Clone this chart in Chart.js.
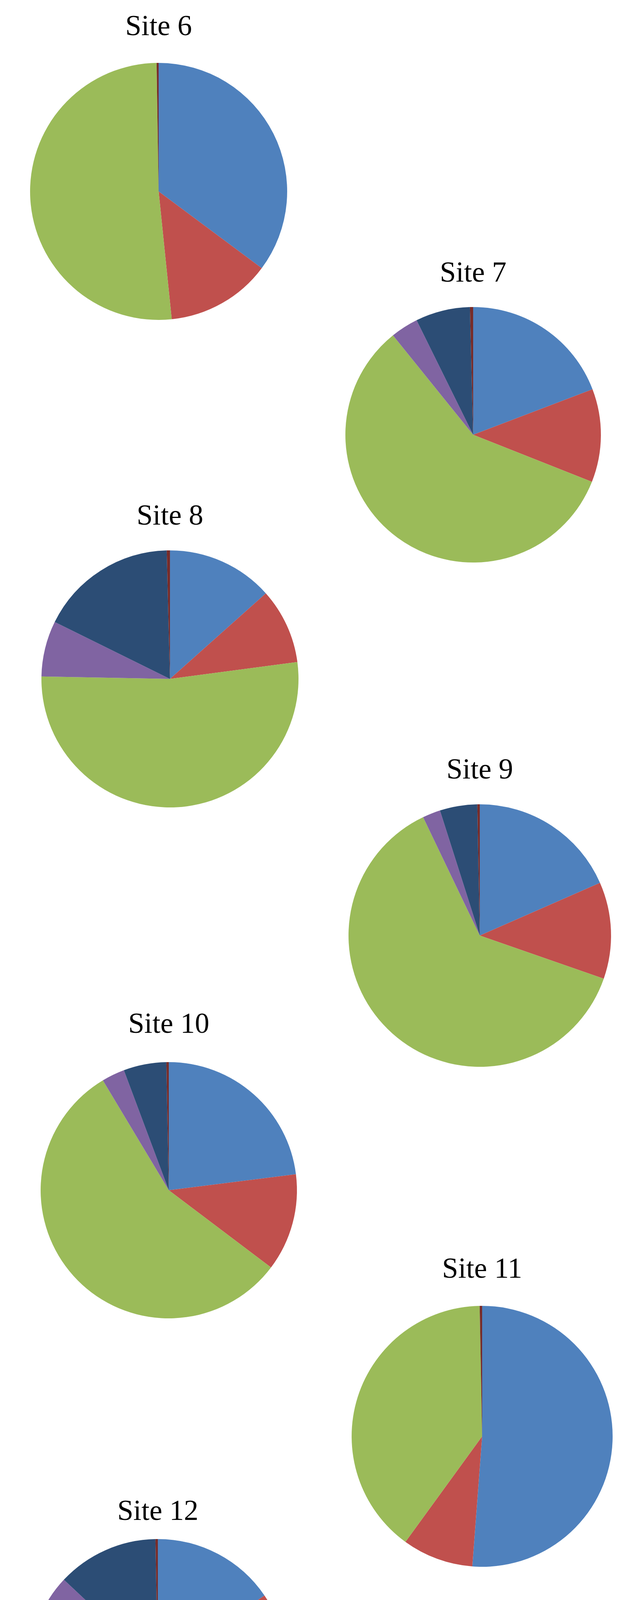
<!DOCTYPE html>
<html>
<head>
<meta charset="utf-8">
<title>Site 6 - Site 12</title>
<script src="https://cdn.jsdelivr.net/npm/chart.js@4.4.1/dist/chart.umd.min.js"></script>
<style>
  body { margin: 0; background: #fff; width: 1592px; height: 4586px; position: relative; overflow: hidden; }
  canvas { position: absolute; }
</style>
</head>
<body>
<script>
// categories in clockwise order from 12 o'clock (Excel 2007 default palette order)
const categories = ["Series 1", "Series 2", "Series 3", "Series 4", "Series 5", "Series 6", "Series 7", "Series 8"];
const sliceColors = ["#4F81BD", "#C0504D", "#9BBB59", "#8064A2", "#4BACC6", "#F79646", "#2C4D75", "#772C2A"];

// share of each category per site (%)
const site6 = [35.2, 13.2, 51.4, 0, 0, 0, 0, 0.25];
const site7 = [19.2, 11.8, 58.2, 3.5, 0, 0, 6.9, 0.4];
const site8 = [13.4, 9.5, 52.4, 7.0, 0, 0, 17.3, 0.4];
const site9 = [18.4, 11.9, 62.5, 2.2, 0, 0, 4.6, 0.3];
const site10 = [23.0, 12.3, 56.1, 2.9, 0, 0, 5.4, 0.3];
const site11 = [51.2, 8.8, 39.7, 0, 0, 0, 0, 0.3];
const site12 = [15.5, 9.8, 55.9, 5.8, 0, 0, 12.7, 0.3];

const siteTitles = ["Site 6", "Site 7", "Site 8", "Site 9", "Site 10", "Site 11", "Site 12"];
const siteValues = [site6, site7, site8, site9, site10, site11, site12];

// where each little chart sits on the page: title centre / baseline, pie centre and radius
const placement = [
  { tx: 427, ty: 95, cx: 406, cy: 490, r: 329 },
  { tx: 1210, ty: 726, cx: 1211, cy: 1113, r: 327 },
  { tx: 430, ty: 1348, cx: 435, cy: 1738, r: 329 },
  { tx: 1215, ty: 1998, cx: 1228, cy: 2395, r: 336 },
  { tx: 425, ty: 2649, cx: 432, cy: 3047, r: 328 },
  { tx: 1231, ty: 3276, cx: 1234, cy: 3677, r: 334 },
  { tx: 405, ty: 3896, cx: 404, cy: 4270, r: 330 }
];

const TITLE_SIZE = 74;
const BASELINE_DROP = 61; // from top of title line box to the text baseline

function drawSite(index) {
  const p = placement[index];
  const top = p.ty - BASELINE_DROP;
  const gap = p.cy - p.r - top - TITLE_SIZE;
  const width = 2 * p.r + 2 * Math.abs(p.cx - p.tx) + 20;
  const left = p.tx - width / 2;
  const padLeft = p.cx - p.r - left;
  const padRight = width - 2 * p.r - padLeft;
  const height = TITLE_SIZE + gap + 2 * p.r;

  const canvas = document.createElement("canvas");
  canvas.width = width;
  canvas.height = height;
  canvas.style.left = left + "px";
  canvas.style.top = top + "px";
  document.body.appendChild(canvas);

  new Chart(canvas, {
    type: "pie",
    data: {
      labels: categories,
      datasets: [{
        data: siteValues[index],
        backgroundColor: sliceColors,
        borderWidth: 0
      }]
    },
    options: {
      responsive: false,
      animation: false,
      devicePixelRatio: 1,
      layout: { padding: { left: padLeft, right: padRight, top: 0, bottom: 0 } },
      plugins: {
        legend: { display: false },
        tooltip: { enabled: false },
        title: {
          display: true,
          text: siteTitles[index],
          color: "#000",
          font: { family: "'Liberation Serif', 'Times New Roman', serif", size: TITLE_SIZE, weight: "normal", lineHeight: 1 },
          padding: { top: 0, bottom: gap }
        }
      }
    }
  });
}

siteTitles.forEach((title, index) => drawSite(index));
</script>
</body>
</html>
